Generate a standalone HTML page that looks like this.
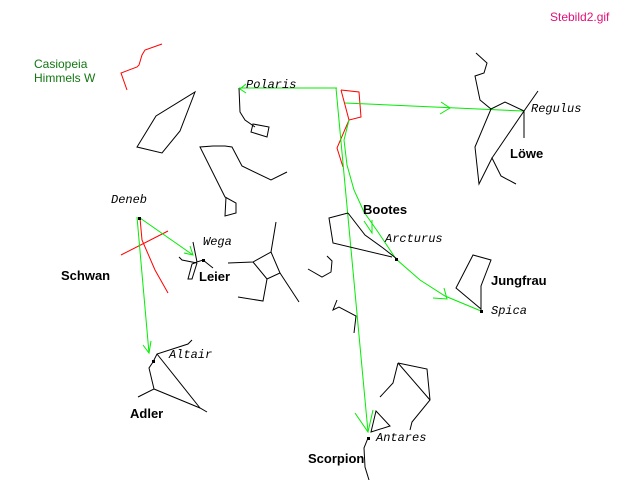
<!DOCTYPE html>
<html><head><meta charset="utf-8"><style>
html,body{margin:0;padding:0;background:#fff;}
svg{display:block;}
.m{font-family:"Liberation Mono",monospace;font-style:italic;font-size:12px;fill:#000;}
.b{font-family:"Liberation Sans",sans-serif;font-weight:bold;font-size:13px;fill:#000;}
.k{fill:none;stroke:#000;stroke-width:1;}
.r{fill:none;stroke:#f00;stroke-width:1;}
.g{fill:none;stroke:#0e0;stroke-width:1;}
</style></head><body>
<svg width="640" height="480" viewBox="0 0 640 480" xmlns="http://www.w3.org/2000/svg">
<text x="550" y="21" font-family="Liberation Sans,sans-serif" font-size="12" fill="#e0107a">Stebild2.gif</text>
<text x="34" y="68" font-family="Liberation Sans,sans-serif" font-size="12" fill="#117711">Casiopeia</text>
<text x="34" y="82" font-family="Liberation Sans,sans-serif" font-size="12" fill="#117711">Himmels W</text>
<polyline class="r" points="162,44 145,50 142,55 139,65 137,67 121,73 127,90"/>
<polygon class="k" points="195,92 180,131 162,153 137,147 156,116"/>
<polyline class="k" points="239,88 240,112 245,120 255,127"/>
<polygon class="k" points="253,124 269,127 267,137 251,132"/>
<polyline class="k" points="287,172 271,180 242,166 232,147 225,146 213,146 200,147 225,197 236,203 236,213 225,216 226,197"/>
<!-- red near Polaris line -->
<polyline class="r" points="341,90 359,92 361,117 349,120 337,148 343,167"/>
<line class="r" x1="341" y1="90" x2="349" y2="120"/>
<!-- green lines -->
<line class="g" x1="239" y1="88" x2="337" y2="88"/>
<polyline class="g" points="246,84 240,89 246,93"/>
<line class="g" x1="336" y1="88" x2="368" y2="432"/>
<polyline class="g" points="355,413 368,432 373,410"/>
<line class="g" x1="345" y1="103" x2="523" y2="111"/>
<polyline class="g" points="441,102 450,108 440,114"/>
<polyline class="g" points="349,120 344,140 347,165 354,190 364,212 378,232 396,259 420,280 445,296 481,311"/>
<polyline class="g" points="364,221 372,233 372,220"/>
<polyline class="g" points="433,298 447,299 444,288"/>
<!-- Löwe -->
<polyline class="k" points="476,53 487,63 484,73 475,76 480,100 491,109 505,102 524,111 538,91"/>
<line class="k" x1="524" y1="111" x2="524" y2="138"/>
<polyline class="k" points="491,109 475,147 479,184 492,158 501,176 516,184"/>
<line class="k" x1="524" y1="111" x2="492" y2="158"/>
<!-- Bootes -->
<polyline class="k" points="348,213 329,218 333,243 392,257"/>
<polyline class="k" points="348,213 365,235 383,248 397,259"/>
<rect x="395" y="258" width="3" height="3" fill="#000"/>
<!-- Jungfrau -->
<polyline class="k" points="481,312 481,286 491,260 473,255 456,288 481,309"/>
<rect x="480" y="310" width="3" height="3" fill="#000"/>
<!-- Schwan -->
<line class="r" x1="121" y1="255" x2="168" y2="231"/>
<polyline class="r" points="140,218 142,240 155,270 168,293"/>
<line class="g" x1="137" y1="217" x2="149" y2="353"/>
<polyline class="g" points="143,345 149,353 151,341"/>
<line class="g" x1="140" y1="218" x2="193" y2="255"/>
<polyline class="g" points="184,253 193,255 190,246"/>
<rect x="138" y="217" width="3" height="3" fill="#000"/>
<!-- Leier -->
<polyline class="k" points="193,242 197,262 203,260 213,268"/>
<polyline class="k" points="179,257 182,260 197,263"/>
<polyline class="k" points="197,262 192,264 188,279 192,279 197,263"/>
<rect x="202" y="259" width="3" height="3" fill="#000"/>
<!-- Hercules -->
<polyline class="k" points="276,222 271,252 253,262 228,263"/>
<polyline class="k" points="271,252 280,273 267,279 253,262"/>
<line class="k" x1="280" y1="273" x2="299" y2="302"/>
<polyline class="k" points="267,279 263,301 238,297"/>
<polyline class="k" points="327,256 332,261 331,272 322,277 308,269"/>
<polyline class="k" points="337,300 333,310 339,307 356,316 354,333"/>
<!-- Adler -->
<polyline class="k" points="192,340 188,344 157,354 153,362 149,368 154,389 138,397"/>
<polyline class="k" points="154,389 200,408 207,412"/>
<line class="k" x1="157" y1="354" x2="200" y2="408"/>
<rect x="152" y="360" width="3" height="3" fill="#000"/>
<!-- Scorpion -->
<polyline class="k" points="398,363 427,369 430,400 412,422 410,430"/>
<line class="k" x1="398" y1="363" x2="430" y2="400"/>
<polyline class="k" points="398,363 393,383 380,397"/>
<polygon class="k" points="376,411 390,426 371,432"/>
<polyline class="k" points="368,438 364,448 365,467 369,480"/>
<rect x="367" y="437" width="3" height="3" fill="#000"/>
<!-- labels -->
<text class="m" x="246" y="88">Polaris</text>
<text class="m" x="531" y="112">Regulus</text>
<text class="m" x="111" y="203">Deneb</text>
<text class="m" x="203" y="245">Wega</text>
<text class="m" x="385" y="242">Arcturus</text>
<text class="m" x="491" y="314">Spica</text>
<text class="m" x="169" y="358">Altair</text>
<text class="m" x="376" y="441">Antares</text>
<text class="b" x="510" y="158">Löwe</text>
<text class="b" x="363" y="214">Bootes</text>
<text class="b" x="491" y="285">Jungfrau</text>
<text class="b" x="61" y="280">Schwan</text>
<text class="b" x="199" y="281">Leier</text>
<text class="b" x="130" y="418">Adler</text>
<text class="b" x="308" y="463">Scorpion</text>
</svg>
</body></html>
